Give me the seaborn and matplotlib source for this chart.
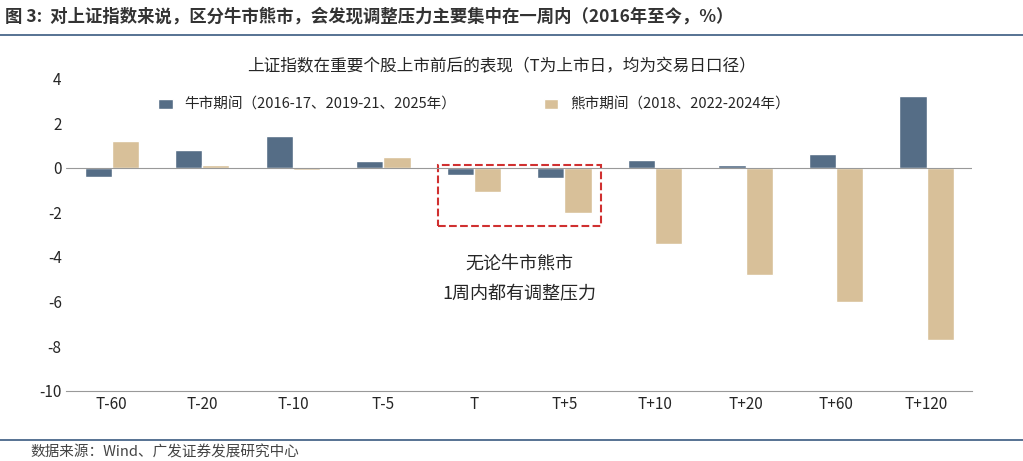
import numpy as np
import pandas as pd
import matplotlib.pyplot as plt
import seaborn as sns
from matplotlib.patches import Rectangle

sns.set_style("white")
plt.rcParams['font.family'] = ['Noto Sans CJK SC', 'DejaVu Sans']
plt.rcParams['axes.unicode_minus'] = False

categories = ['T-60', 'T-20', 'T-10', 'T-5', 'T', 'T+5', 'T+10', 'T+20', 'T+60', 'T+120']
bull = [-0.4, 0.8, 1.4, 0.3, -0.35, -0.45, 0.35, 0.1, 0.6, 3.2]
bear = [1.2, 0.1, -0.1, 0.5, -1.1, -2.05, -3.4, -4.8, -6.0, -7.7]
bull_name = '牛市期间（2016-17、2019-21、2025年）'
bear_name = '熊市期间（2018、2022-2024年）'

df = pd.DataFrame({'cat': categories * 2,
                   'val': bull + bear,
                   'grp': [bull_name] * 10 + [bear_name] * 10})

fig = plt.figure(figsize=(10.23, 4.61), dpi=100)
ax = fig.add_axes([0.065, 0.152, 0.885, 0.678])
sns.barplot(data=df, x='cat', y='val', hue='grp', order=categories,
            palette=['#4d6d8e', '#e2c38f'], width=0.6, ax=ax)

ax.set_ylim(-10, 4)
ax.set_yticks(range(-10, 5, 2))
ax.set_xlabel('')
ax.set_ylabel('')
ax.axhline(0, color='#999999', lw=0.8)
for s in ['top', 'right', 'left']:
    ax.spines[s].set_visible(False)
ax.spines['bottom'].set_color('#999999')
ax.tick_params(labelsize=11, length=0)

ax.legend(ncol=2, frameon=False, loc='upper center', bbox_to_anchor=(0.45, 0.98),
          fontsize=10.5, handlelength=1, columnspacing=6)
fig.text(0.49, 0.855, '上证指数在重要个股上市前后的表现（T为上市日，均为交易日口径）',
         ha='center', va='center', fontsize=12)

ax.add_patch(Rectangle((3.6, -2.6), 1.8, 2.7, fill=False, ec='#d03030',
                       ls='--', lw=1.5))
ax.text(4.5, -5.0, '无论牛市熊市\n1周内都有调整压力', ha='center', va='center',
        fontsize=13, linespacing=1.8)

fig.text(0.005, 0.965, '图 3:  对上证指数来说，区分牛市熊市，会发现调整压力主要集中在一周内（2016年至今，%）',
         fontsize=12.5, fontweight='bold', va='center', color='#333333')
fig.add_artist(plt.Line2D([0, 1], [0.925, 0.925], color='#3a5a80', lw=1.2))
fig.add_artist(plt.Line2D([0, 1], [0.045, 0.045], color='#3a5a80', lw=1.2))
fig.text(0.03, 0.01, '数据来源：Wind、广发证券发展研究中心', fontsize=10.5, color='#444444')

fig.savefig('out.png', dpi=100)
